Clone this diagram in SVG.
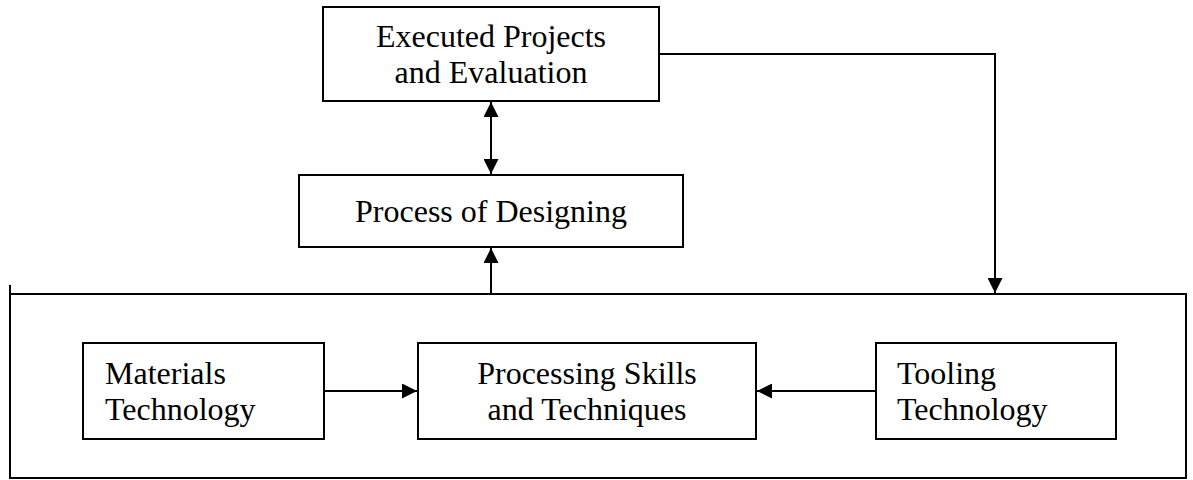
<svg xmlns="http://www.w3.org/2000/svg" width="1193" height="480" viewBox="0 0 1193 480">
<defs>
<style>
.box{fill:#fff;stroke:#000;stroke-width:2}
.ln{fill:none;stroke:#000;stroke-width:2}
text{font-family:"Liberation Serif","Times New Roman",serif;font-size:32px;fill:#000}
.c{text-anchor:middle}
</style>
<marker id="ah" viewBox="0 0 10 10" refX="10" refY="5" markerWidth="15" markerHeight="15" markerUnits="userSpaceOnUse" orient="auto-start-reverse">
<path d="M0,0 L10,5 L0,10 Z" fill="#000"/>
</marker>
</defs>
<rect width="1193" height="480" fill="#fff"/>
<g id="container">
<path class="ln" d="M10,285 V478 H1186 V294 H10"/>
</g>
<g id="executed">
<rect class="box" x="323" y="7" width="336" height="94"/>
<text class="c" x="491" y="47">Executed Projects</text>
<text class="c" x="491" y="83">and Evaluation</text>
</g>
<g id="designing">
<rect class="box" x="299" y="175" width="384" height="72"/>
<text class="c" x="491" y="222">Process of Designing</text>
</g>
<g id="materials">
<rect class="box" x="83" y="343" width="241" height="96"/>
<text x="105" y="384">Materials</text>
<text x="105" y="420">Technology</text>
</g>
<g id="processing">
<rect class="box" x="418" y="343" width="338" height="96"/>
<text class="c" x="587" y="384">Processing Skills</text>
<text class="c" x="587" y="420">and Techniques</text>
</g>
<g id="tooling">
<rect class="box" x="876" y="343" width="240" height="96"/>
<text x="897" y="384">Tooling</text>
<text x="897" y="420">Technology</text>
</g>
<g id="connectors">
<line class="ln" x1="491" y1="102" x2="491" y2="174" marker-start="url(#ah)" marker-end="url(#ah)"/>
<line class="ln" x1="491" y1="294" x2="491" y2="248" marker-end="url(#ah)"/>
<path class="ln" d="M659,54 H995 V293" marker-end="url(#ah)"/>
<line class="ln" x1="324" y1="391" x2="417" y2="391" marker-end="url(#ah)"/>
<line class="ln" x1="876" y1="391" x2="757" y2="391" marker-end="url(#ah)"/>
</g>
</svg>
